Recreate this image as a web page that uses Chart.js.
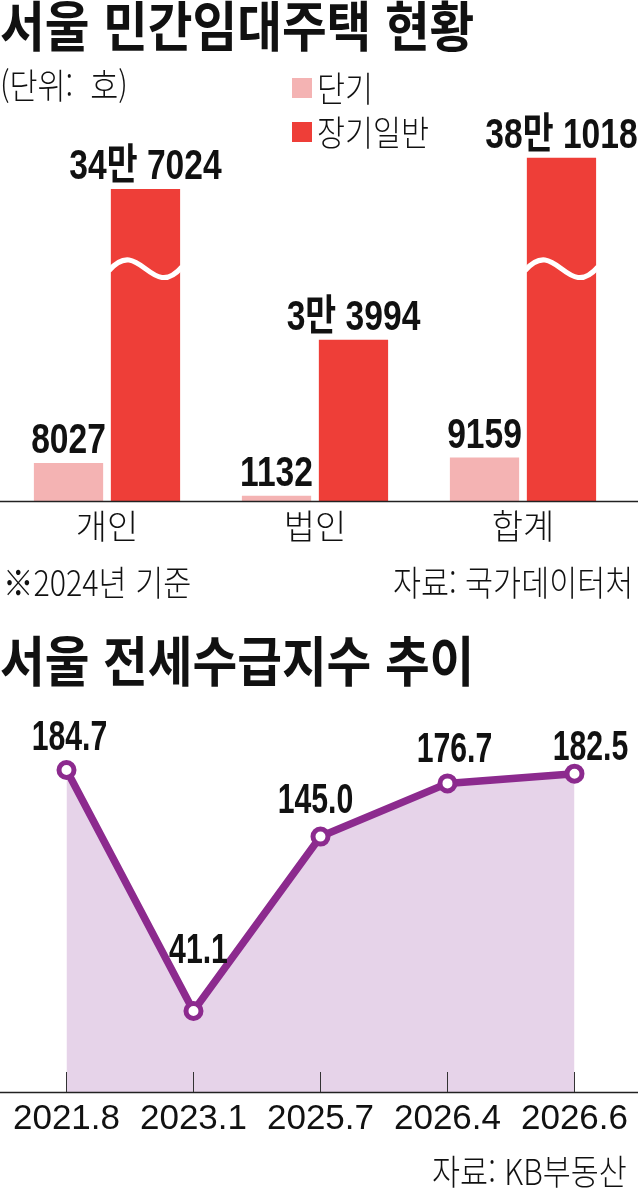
<!DOCTYPE html>
<html lang="ko">
<head>
<meta charset="utf-8">
<title>서울 민간임대주택 현황 / 서울 전세수급지수 추이</title>
<script src="https://cdn.jsdelivr.net/npm/chart.js@4"></script>
<style>
  html, body { margin: 0; padding: 0; background: #fff; }
  body {
    width: 638px; height: 1188px; position: relative; overflow: hidden;
    font-family: "Noto Sans CJK KR", sans-serif; color: #111;
  }
  canvas { position: absolute; left: 0; }
  .txt { position: absolute; white-space: pre; line-height: 1; transform-origin: 0 0; }
  .title { font-size: 54px; font-weight: 700; transform: scaleX(0.9); }
  .light { font-size: 35px; font-weight: 300; transform: scaleX(0.87); }
  .right { transform-origin: 100% 0; }
  .swatch { position: absolute; width: 20px; height: 20px; }
</style>
</head>
<body>
<canvas id="rent" width="638" height="560" style="top:0"></canvas>
<canvas id="jeonse" width="638" height="450" style="top:700px"></canvas>

<div class="txt title" style="left:0;top:-3px">서울 민간임대주택 현황</div>
<div class="txt light" style="left:0;top:66px">(단위:  호)</div>
<div id="legend"></div>
<div class="txt light" style="left:3px;top:563px">※2024년 기준</div>
<div class="txt light right" style="right:5px;top:563px">자료: 국가데이터처</div>

<div class="txt title" style="left:0;top:632px">서울 전세수급지수 추이</div>
<div class="txt light right" style="right:11px;top:1152px">자료: KB부동산</div>

<script>
// --- 서울 민간임대주택 현황 (호) ---
const rentCategories = ['개인', '법인', '합계'];
const seriesNames = ['단기', '장기일반'];
const shortTerm = [8027, 1132, 9159];
const longTerm = [347024, 33994, 381018];
// the two huge bars are drawn cut off at these values, with a wavy break mark
const longCutAt = [65800, null, 72400];
const breakValue = 49000;

// --- 서울 전세수급지수 추이 ---
const jeonseLabels = ['2021.8', '2023.1', '2025.7', '2026.4', '2026.6'];
const jeonseIndex = [184.7, 41.1, 145.0, 176.7, 182.5];

const PINK = '#F4B3B3';
const RED = '#EE3E38';
const PURPLE = '#8C2A8E';
const LILAC = '#E6D3E9';
const INK = '#111';

// legend squares (built from the series names)
const legend = document.getElementById('legend');
seriesNames.forEach((name, i) => {
  const top = 78 + i * 44;
  legend.insertAdjacentHTML('beforeend',
    `<div class="swatch" style="left:292px;top:${top}px;background:${[PINK, RED][i]}"></div>` +
    `<div class="txt light" style="left:317px;top:${top - 9}px">${name}</div>`);
});

// 347024 -> "34만 7024"
function manFormat(v) {
  const man = Math.floor(v / 10000);
  const rest = v % 10000;
  return man ? man + '만 ' + rest : String(rest);
}

// canvas text squeezed sideways, like the condensed newspaper face
function squeezeText(ctx, text, x, y, sx) {
  ctx.save();
  ctx.translate(x, y);
  ctx.scale(sx, 1);
  ctx.fillText(text, 0, 0);
  ctx.restore();
}

function fullWidthAxis(chart) {
  const ctx = chart.ctx;
  const y = chart.chartArea.bottom + 0.5;
  ctx.strokeStyle = '#222';
  ctx.lineWidth = 1.5;
  ctx.beginPath();
  ctx.moveTo(0, y);
  ctx.lineTo(chart.width, y);
  ctx.stroke();
}

const barExtras = {
  id: 'barExtras',
  afterDatasetsDraw(chart) {
    const ctx = chart.ctx;
    const yScale = chart.scales.y;
    ctx.save();
    fullWidthAxis(chart);
    chart.data.datasets.forEach((ds, di) => {
      chart.getDatasetMeta(di).data.forEach((bar, i) => {
        const real = ds.values[i];
        if (real > ds.data[i]) {
          // wavy break
          const w = bar.width;
          const L = bar.x - w / 2 - 2, R = bar.x + w / 2 + 2;
          const c = yScale.getPixelForValue(breakValue);
          ctx.strokeStyle = '#fff';
          ctx.lineWidth = 5;
          ctx.beginPath();
          ctx.moveTo(L, c + 2);
          ctx.bezierCurveTo(L + w * 0.45, c - 34, R - w * 0.45, c + 34, R, c - 2);
          ctx.stroke();
        }
        ctx.fillStyle = INK;
        ctx.font = 'bold 42px "Liberation Sans", "Noto Sans CJK KR", sans-serif';
        ctx.textAlign = 'center';
        ctx.textBaseline = 'alphabetic';
        squeezeText(ctx, manFormat(real), bar.x, bar.y - 10, 0.8);
      });
    });
    ctx.restore();
  }
};

const lineExtras = {
  id: 'lineExtras',
  afterDatasetsDraw(chart, args, opts) {
    const ctx = chart.ctx;
    const xScale = chart.scales.x;
    const bottom = chart.chartArea.bottom;
    ctx.save();
    fullWidthAxis(chart);
    // short tick marks rising from the axis
    ctx.strokeStyle = '#333';
    ctx.lineWidth = 1;
    xScale.ticks.forEach((t, i) => {
      const x = Math.round(xScale.getPixelForTick(i)) + 0.5;
      ctx.beginPath();
      ctx.moveTo(x, bottom);
      ctx.lineTo(x, bottom - 20);
      ctx.stroke();
    });
    // value labels
    const ds = chart.data.datasets[0];
    ctx.fillStyle = INK;
    ctx.font = 'bold 42px "Liberation Sans", sans-serif';
    ctx.textAlign = 'center';
    ctx.textBaseline = 'alphabetic';
    chart.getDatasetMeta(0).data.forEach((pt, i) => {
      squeezeText(ctx, ds.data[i].toFixed(1), pt.x + opts.shift[i], pt.y - opts.lift[i], 0.72);
    });
    ctx.restore();
  }
};

new Chart(document.getElementById('rent'), {
  type: 'bar',
  data: {
    labels: rentCategories,
    datasets: [
      { label: seriesNames[0], data: shortTerm, values: shortTerm, backgroundColor: PINK },
      {
        label: seriesNames[1],
        data: longTerm.map((v, i) => longCutAt[i] != null ? Math.min(v, longCutAt[i]) : v),
        values: longTerm,
        backgroundColor: RED
      }
    ]
  },
  options: {
    responsive: false,
    animation: false,
    layout: { autoPadding: false, padding: { top: 100, left: 3, right: 11, bottom: 0 } },
    datasets: { bar: { categoryPercentage: 0.74, barPercentage: 0.9 } },
    plugins: { legend: { display: false }, tooltip: { enabled: false } },
    scales: {
      x: {
        grid: { display: false, drawTicks: false },
        border: { display: false },
        ticks: {
          color: INK, padding: 8,
          font: { family: '"Noto Sans CJK KR", sans-serif', size: 34, weight: 300, lineHeight: 1 }
        },
        afterFit(scale) { scale.height = 59; }
      },
      y: { display: false, min: 0, max: 84600 }
    }
  },
  plugins: [barExtras]
});

new Chart(document.getElementById('jeonse'), {
  type: 'line',
  data: {
    labels: jeonseLabels,
    datasets: [{
      data: jeonseIndex,
      borderColor: PURPLE,
      borderWidth: 7.5,
      backgroundColor: LILAC,
      fill: 'start',
      tension: 0,
      pointRadius: 7.5,
      pointBorderWidth: 5,
      pointBackgroundColor: '#fff',
      pointBorderColor: PURPLE
    }]
  },
  options: {
    responsive: false,
    animation: false,
    layout: { autoPadding: false, padding: { top: 0, left: 3, right: 0, bottom: 0 } },
    plugins: {
      legend: { display: false },
      tooltip: { enabled: false },
      lineExtras: { lift: [20, 48, 24, 21, 14], shift: [3, 5, -5, 7, 16] }
    },
    scales: {
      x: {
        offset: true,
        grid: { display: false, drawTicks: false },
        border: { display: false },
        ticks: {
          color: INK, padding: 10, maxRotation: 0, autoSkip: false,
          font: { family: '"Liberation Sans", sans-serif', size: 35, lineHeight: 1 }
        },
        afterFit(scale) { scale.height = 58; }
      },
      y: { display: false, min: -7.2, max: 226.4 }
    }
  },
  plugins: [lineExtras]
});
</script>
</body>
</html>
